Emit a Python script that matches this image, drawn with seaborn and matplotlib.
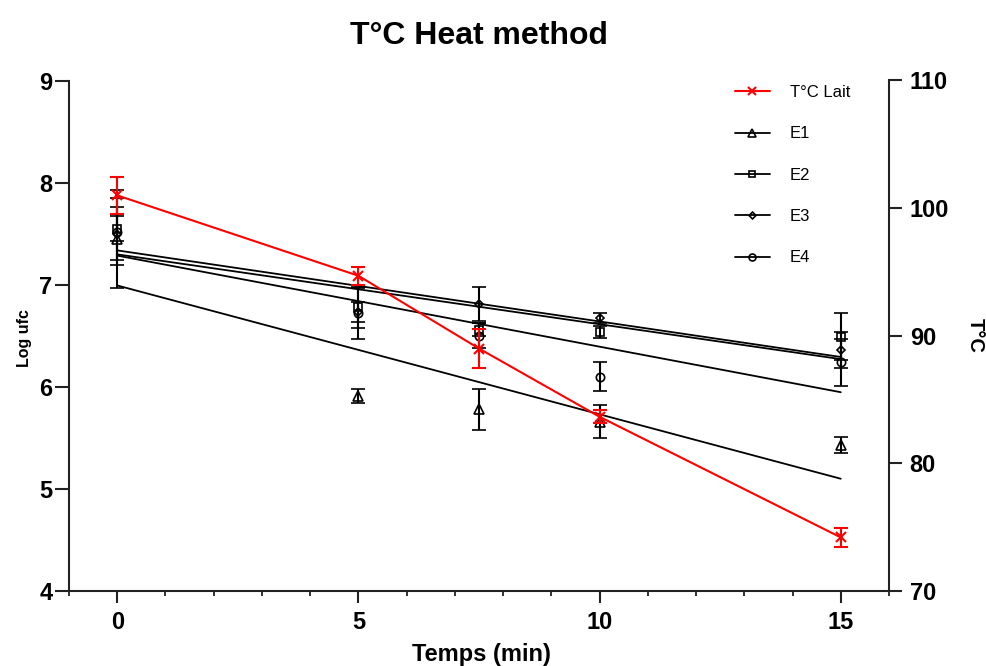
import numpy as np
import pandas as pd
import matplotlib
matplotlib.use("Agg")
import matplotlib.pyplot as plt
import seaborn as sns
from matplotlib.ticker import MultipleLocator
from matplotlib.lines import Line2D

# ---- data ----
time = [0, 5, 7.5, 10, 15]
temp_lait = [101.0, 94.7, 89.0, 83.65, 74.2]
temp_err = [1.45, 0.7, 1.5, 0.5, 0.75]

e1 = [7.45, 5.91, 5.78, 5.66, 5.43]
e1_err = [0.48, 0.07, 0.20, 0.16, 0.08]
e2 = [7.55, 6.78, 6.56, 6.54, 6.49]
e2_err = [0.12, 0.20, 0.06, 0.06, 0.23]
e3 = [7.50, 6.73, 6.81, 6.67, 6.36]
e3_err = [0.26, 0.10, 0.17, 0.05, 0.18]
e4 = [7.52, 6.72, 6.50, 6.10, 6.24]
e4_err = [0.33, 0.25, 0.12, 0.14, 0.23]

series_names = ["E1", "E2", "E3", "E4"]
series_vals = [e1, e2, e3, e4]
series_errs = [e1_err, e2_err, e3_err, e4_err]
series_markers = ["^", "s", "D", "o"]
series_msize = [6.5, 6, 4.5, 6]

# ---- style ----
sns.set_theme(style="ticks")
plt.rcParams["font.family"] = ["Liberation Sans", "DejaVu Sans"]
plt.rcParams["font.weight"] = "bold"
plt.rcParams["text.color"] = "black"
plt.rcParams["axes.labelcolor"] = "black"
plt.rcParams["xtick.color"] = "black"
plt.rcParams["ytick.color"] = "black"

W, H = 987, 666
fig = plt.figure(figsize=(W / 100, H / 100), dpi=100)
ax = fig.add_axes([69 / W, 75 / H, 820 / W, 510.5 / H])
ax2 = ax.twinx()

# ---- black series (left axis) ----
for name, vals, errs, mk, ms in zip(series_names, series_vals, series_errs,
                                     series_markers, series_msize):
    df = pd.DataFrame({"t": time, "v": vals})
    sns.regplot(data=df, x="t", y="v", ax=ax, scatter=False, ci=None,
                truncate=True, color="black", line_kws=dict(lw=1.3))
    ax.errorbar(time, vals, yerr=errs, fmt=mk, ms=ms, mfc="none", mec="black",
                mew=1.2, ecolor="black", elinewidth=1.5, capsize=5,
                capthick=1.5, color="black", zorder=3)

# ---- red temperature (right axis) ----
dft = pd.DataFrame({"t": time, "T": temp_lait})
sns.lineplot(data=dft, x="t", y="T", ax=ax2, color="red", lw=1.5,
             marker="x", ms=7, mec="red", mew=1.5)
ax2.errorbar(time, temp_lait, yerr=temp_err, fmt="none", ecolor="red",
             elinewidth=1.5, capsize=5, capthick=1.5)

# ---- axes ----
ax.set_xlim(-1, 16)
ax.set_ylim(4, 9)
ax2.set_ylim(70, 110)
ax.set_xlabel("")
ax.set_ylabel("")
ax2.set_xlabel("")
ax2.set_ylabel("")

ax.xaxis.set_major_locator(MultipleLocator(5))
ax.xaxis.set_minor_locator(MultipleLocator(1))
ax.yaxis.set_major_locator(MultipleLocator(1))
ax2.yaxis.set_major_locator(MultipleLocator(10))

for a in (ax, ax2):
    a.spines["top"].set_visible(False)
    for s in a.spines.values():
        s.set_linewidth(1.5)
        s.set_color("#222222")
ax.spines["right"].set_visible(False)
ax2.spines["left"].set_visible(False)
ax2.spines["bottom"].set_visible(False)

ax.tick_params(axis="x", which="major", length=8.6, width=1.5, pad=6,
               labelsize=17, direction="out", color="#222222")
ax.tick_params(axis="x", which="minor", length=3.8, width=1.3,
               direction="out", color="#222222")
ax.tick_params(axis="y", which="major", length=10, width=1.5, pad=2,
               labelsize=17, direction="out", color="#222222")
ax2.tick_params(axis="y", which="major", length=9.4, width=1.5, pad=5.5,
                labelsize=17, direction="out", color="#222222")
for lab in ax.get_xticklabels() + ax.get_yticklabels() + ax2.get_yticklabels():
    lab.set_fontweight("bold")

# ---- texts ----
ax.set_title("T°C Heat method", fontsize=23, fontweight="bold", pad=26)
fig.text(481 / W, 1 - 655 / H, "Temps (min)", ha="center", va="center",
         fontsize=17, fontweight="bold")
fig.text(25 / W, 1 - 338 / H, "Log ufc", ha="center", va="center",
         rotation=90, fontsize=11.5, fontweight="bold")
fig.text(975 / W, 1 - 335 / H, "T°C", ha="center", va="center",
         rotation=270, fontsize=14.5, fontweight="bold")

# ---- legend ----
handles = [Line2D([], [], color="red", lw=1.5, marker="x", ms=6, mew=1.5)]
labels = ["T°C Lait"]
for name, mk, ms in zip(series_names, series_markers, series_msize):
    handles.append(Line2D([], [], color="black", lw=1.3, marker=mk, ms=ms - 1,
                          mfc="none", mew=1.2))
    labels.append(name)
leg = ax2.legend(handles, labels, loc="upper left",
                 bbox_to_anchor=(735 / W, 1 - 85 / H),
                 bbox_transform=fig.transFigure, frameon=False,
                 borderpad=0, borderaxespad=0, handlelength=2.1,
                 handletextpad=1.2, labelspacing=1.58,
                 prop={"size": 12, "weight": "normal"})

fig.savefig("out.png", dpi=100)
